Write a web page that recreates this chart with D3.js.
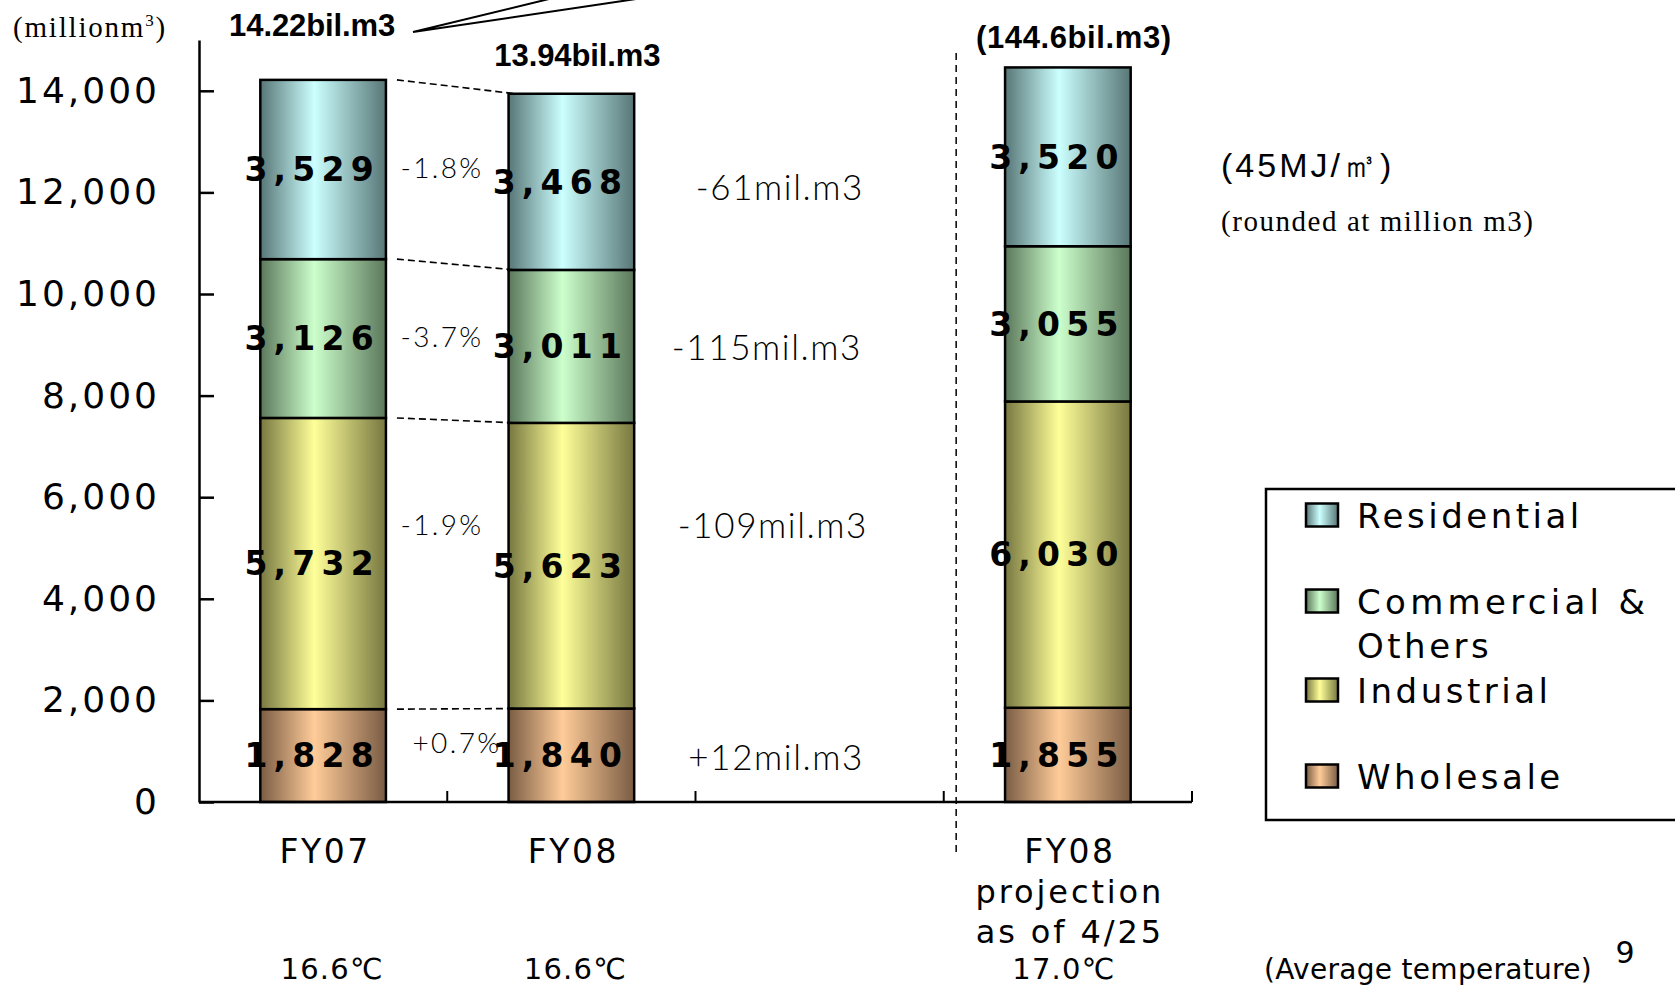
<!DOCTYPE html>
<html><head><meta charset="utf-8">
<script src="https://cdn.jsdelivr.net/npm/d3@7"></script>
<style>html,body{margin:0;padding:0;background:#fff;overflow:hidden}</style>
</head><body>
<svg id="chart" width="1675" height="987" xmlns="http://www.w3.org/2000/svg"></svg>
<script>
// ---------------- data ----------------
const categories = ["FY07", "FY08", "", "FY08proj"];
const categoryLines = [["FY07"], ["FY08"], [], ["FY08", "projection", "as of 4/25"]];
const temperatures = ["16.6℃", "16.6℃", "", "17.0℃"];
const totalLabels = ["14.22bil.m3", "13.94bil.m3", "", "(144.6bil.m3)"];
const seriesKeys = ["wholesale", "industrial", "commercial", "residential"]; // bottom -> top
const seriesNames = ["Wholesale", "Industrial", "Commercial & Others", "Residential"];
const wholesale   = [1828, 1840, null, 1855];
const industrial  = [5732, 5623, null, 6030];
const commercial  = [3126, 3011, null, 3055];
const residential = [3529, 3468, null, 3520];
const pctChange = ["+0.7%", "-1.9%", "-3.7%", "-1.8%"];              // per series, bottom -> top
const volChange = ["+12mil.m3", "-109mil.m3", "-115mil.m3", "-61mil.m3"];
const yTickValues = [0, 2000, 4000, 6000, 8000, 10000, 12000, 14000];
const yMax = 15000;

// ---------------- styling / layout ----------------
const colors = {
  wholesale:   {light: "#ffcc99", dark: "#7a5c44"},
  industrial:  {light: "#ffff99", dark: "#777741"},
  commercial:  {light: "#ccffcc", dark: "#5b775b"},
  residential: {light: "#ccffff", dark: "#587676"}
};
const plot = {left: 199, right: 1192, top: 40, bottom: 802};
const pctPos = [[457, 743], [442, 525], [442, 337], [442, 168]];
const volPos = [[864, 757], [868, 525], [862, 347], [864, 187]];
const gothic = "'DejaVu Sans', Verdana, sans-serif";
const light = "Lato, 'DejaVu Sans', sans-serif";

const svg = d3.select("#chart");
const defs = svg.append("defs");
seriesKeys.forEach(k => {
  const g = defs.append("linearGradient").attr("id", "grad-" + k)
    .attr("x1", "0%").attr("x2", "100%").attr("y1", "0%").attr("y2", "0%");
  g.append("stop").attr("offset", "0%").attr("stop-color", colors[k].dark);
  g.append("stop").attr("offset", "43%").attr("stop-color", colors[k].light);
  g.append("stop").attr("offset", "100%").attr("stop-color", colors[k].dark);
});

const x = d3.scaleBand().domain(categories).range([plot.left, plot.right]).padding(0);
const y = d3.scaleLinear().domain([0, yMax]).range([plot.bottom, plot.top]);
const barW = x.bandwidth() * 0.506;
const barX = c => x(c) + (x.bandwidth() - barW) / 2;
const barC = c => x(c) + x.bandwidth() / 2;

const series = {wholesale, industrial, commercial, residential};
const rows = categories.map((c, i) => {
  const r = {cat: c};
  seriesKeys.forEach(k => r[k] = series[k][i] == null ? 0 : series[k][i]);
  r.has = series.wholesale[i] != null;
  return r;
});
const stacked = d3.stack().keys(seriesKeys)(rows);

// vertical dashed divider
const divX = (x(categories[2]) + x(categories[3])) / 2 + x.bandwidth() * 0.55;
svg.append("line").attr("x1", divX).attr("x2", divX).attr("y1", 53).attr("y2", 855)
  .attr("stroke", "#000").attr("stroke-width", 1.5).attr("stroke-dasharray", "7,5");

// bars
stacked.forEach(layer => {
  svg.append("g").selectAll("rect").data(layer.filter(d => d.data.has)).join("rect")
    .attr("x", d => barX(d.data.cat)).attr("width", barW)
    .attr("y", d => y(d[1])).attr("height", d => y(d[0]) - y(d[1]))
    .attr("fill", "url(#grad-" + layer.key + ")")
    .attr("stroke", "#000").attr("stroke-width", 2.5);
});

// dashed connectors between FY07 and FY08
const cA = categories[0], cB = categories[1];
stacked.forEach(layer => {
  const a = layer[0][1], b = layer[1][1];
  svg.append("line")
    .attr("x1", barX(cA) + barW + 11).attr("y1", y(a))
    .attr("x2", barX(cB) + 7).attr("y2", y(b))
    .attr("stroke", "#000").attr("stroke-width", 1.6).attr("stroke-dasharray", "7,4");
});

// value labels
stacked.forEach(layer => {
  svg.append("g").selectAll("text").data(layer.filter(d => d.data.has)).join("text")
    .attr("x", d => barC(d.data.cat) - 11).attr("y", d => (y(d[0]) + y(d[1])) / 2)
    .attr("dy", "0.36em").attr("text-anchor", "middle")
    .attr("font-family", gothic).attr("font-weight", "bold").attr("font-size", 33)
    .attr("letter-spacing", 6.2).attr("fill", "#000")
    .text(d => d3.format(",")(d.data[layer.key]));
});

// y axis
const yAxis = d3.axisLeft(y).tickValues(yTickValues).tickFormat(d3.format(","))
  .tickSizeInner(-15).tickSizeOuter(0).tickPadding(39);
const gy = svg.append("g").attr("transform", `translate(${plot.left},0)`).call(yAxis);
gy.select(".domain").attr("stroke", "#000").attr("stroke-width", 2.5);
gy.selectAll(".tick line").attr("stroke", "#000").attr("stroke-width", 2.5);
gy.selectAll(".tick text").attr("font-family", gothic).attr("font-size", 36)
  .attr("letter-spacing", 3).attr("fill", "#000");

// x axis (boundary ticks pointing up)
svg.append("line").attr("x1", plot.left).attr("x2", plot.right)
  .attr("y1", y(0)).attr("y2", y(0)).attr("stroke", "#000").attr("stroke-width", 2.5);
svg.append("g").selectAll("line").data(categories).join("line")
  .attr("x1", c => x(c) + x.bandwidth()).attr("x2", c => x(c) + x.bandwidth())
  .attr("y1", y(0)).attr("y2", y(0) - 11).attr("stroke", "#000").attr("stroke-width", 2);

// category labels
categories.forEach((c, i) => {
  categoryLines[i].forEach((t, j) => {
    svg.append("text").attr("x", barC(c) + 2).attr("y", 863 + j * 40)
      .attr("text-anchor", "middle").attr("font-family", gothic).attr("font-size", j > 0 ? 32 : 33)
      .attr("letter-spacing", j > 0 ? 2.9 : 2.5).attr("fill", "#000").text(t);
  });
  if (temperatures[i]) {
    svg.append("text").attr("x", barC(c) + [9, 4, 0, -4][i]).attr("y", 979)
      .attr("text-anchor", "middle").attr("font-family", gothic).attr("font-size", 29)
      .attr("letter-spacing", 1.2).attr("fill", "#000").text(temperatures[i]);
  }
});

// totals above bars
const totY = [36, 66, "", 48];
categories.forEach((c, i) => {
  if (!totalLabels[i]) return;
  svg.append("text").attr("x", barC(c) + [-11, 6, 0, 6][i]).attr("y", totY[i])
    .attr("text-anchor", "middle").attr("font-family", "'Liberation Sans', Arial, sans-serif")
    .attr("font-weight", "bold").attr("font-size", 31).attr("letter-spacing", [-0.1, -0.1, 0, 0.6][i])
    .attr("fill", "#000").text(totalLabels[i]);
});
// callout lines from the FY07 total
svg.append("path").attr("d", "M413,32 L549,-1 M413,32 L636,-1")
  .attr("stroke", "#000").attr("stroke-width", 2).attr("fill", "none");

// change annotations
pctChange.forEach((t, i) => {
  svg.append("text").attr("x", pctPos[i][0]).attr("y", pctPos[i][1]).attr("dy", "0.36em")
    .attr("text-anchor", "middle").attr("font-family", light).attr("font-weight", 300)
    .attr("font-size", 28).attr("letter-spacing", 2.4).attr("fill", "#000").text(t);
});
volChange.forEach((t, i) => {
  svg.append("text").attr("x", volPos[i][0]).attr("y", volPos[i][1]).attr("dy", "0.36em")
    .attr("text-anchor", "end").attr("font-family", light).attr("font-weight", 300)
    .attr("font-size", 35).attr("letter-spacing", 1.6).attr("fill", "#000").text(t);
});

// unit notes
const unit = svg.append("text").attr("x", 13).attr("y", 37)
  .attr("font-family", "'Liberation Serif', 'Times New Roman', serif").attr("font-size", 29)
  .attr("letter-spacing", 1.8).attr("fill", "#000");
unit.append("tspan").text("(millionm");
unit.append("tspan").attr("font-size", 17).attr("dy", -11).text("3");
unit.append("tspan").attr("dy", 11).text(")");

svg.append("text").attr("x", 1221).attr("y", 177)
  .attr("font-family", "'Liberation Sans Narrow', 'Liberation Sans', sans-serif").attr("font-size", 34)
  .attr("letter-spacing", 3).attr("fill", "#000").text("(45MJ/㎥)");
svg.append("text").attr("x", 1221).attr("y", 231)
  .attr("font-family", "'Liberation Serif', serif").attr("font-size", 29)
  .attr("letter-spacing", 1.55).attr("fill", "#000").text("(rounded at million m3)");

svg.append("text").attr("x", 1264).attr("y", 979)
  .attr("font-family", gothic).attr("font-size", 28).attr("letter-spacing", 0.3).attr("fill", "#000")
  .text("(Average temperature)");
svg.append("text").attr("x", 1625).attr("y", 963).attr("text-anchor", "middle")
  .attr("font-family", gothic).attr("font-size", 30).attr("fill", "#000").text("9");

// legend
const lg = svg.append("g");
lg.append("rect").attr("x", 1266).attr("y", 489).attr("width", 460).attr("height", 331)
  .attr("fill", "#fff").attr("stroke", "#000").attr("stroke-width", 2.5);
const legendOrder = [3, 2, 1, 0];
const legendY = [515, 601, 690, 776];
legendOrder.forEach((si, j) => {
  const k = seriesKeys[si];
  lg.append("rect").attr("x", 1306).attr("y", legendY[j] - 11.5).attr("width", 32).attr("height", 23)
    .attr("fill", "url(#grad-" + k + ")").attr("stroke", "#000").attr("stroke-width", 2.5);
  const name = seriesNames[si];
  const lines = name === "Commercial & Others" ? ["Commercial &", "Others"] : [name];
  lines.forEach((t, m) => {
    lg.append("text").attr("x", 1357).attr("y", legendY[j] + 13 + m * 44)
      .attr("font-family", gothic).attr("font-size", 34)
      .attr("letter-spacing", t === "Commercial &" ? 4.3 : 3.5)
      .attr("fill", "#000").text(t);
  });
});
</script>
</body></html>
